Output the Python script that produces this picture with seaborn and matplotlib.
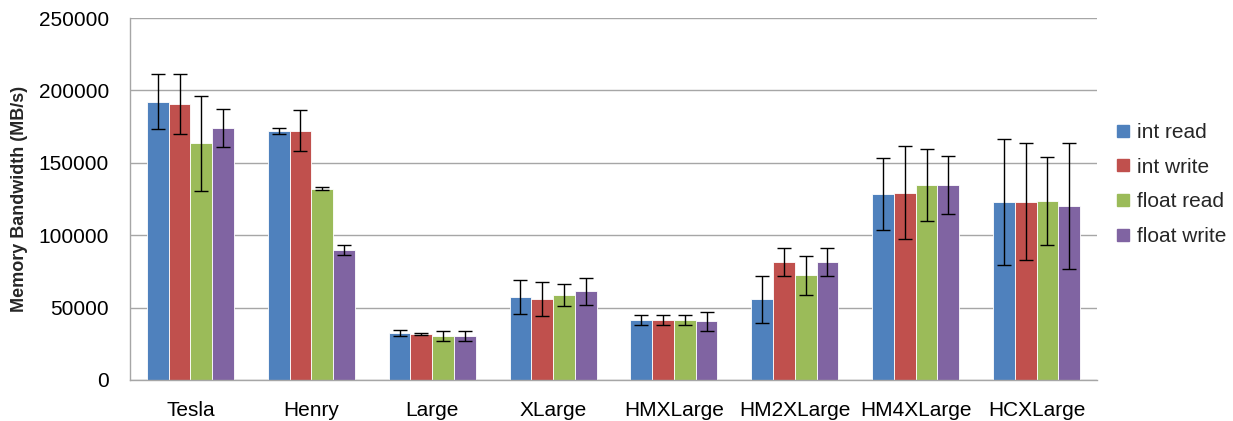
import matplotlib
matplotlib.use("Agg")
import matplotlib.pyplot as plt
import seaborn as sns
import pandas as pd
import numpy as np

categories = ["Tesla", "Henry", "Large", "XLarge", "HMXLarge", "HM2XLarge", "HM4XLarge", "HCXLarge"]
series = ["int read", "int write", "float read", "float write"]

int_read = [192200, 172200, 32500, 57500, 41400, 55700, 128500, 123100]
int_write = [190400, 172200, 31800, 55700, 41400, 81500, 129400, 123100]
float_read = [163500, 132100, 30600, 58500, 41400, 72500, 134700, 123800]
float_write = [174200, 90000, 30600, 61200, 40500, 81500, 134700, 120200]

int_read_err = [19000, 2000, 2000, 11800, 3500, 16000, 24700, 43700]
int_write_err = [20800, 14000, 1000, 11800, 3500, 9500, 32000, 40500]
float_read_err = [33000, 1000, 3500, 7600, 3500, 13500, 24600, 30200]
float_write_err = [13000, 3500, 3500, 9400, 6500, 9700, 20100, 43600]

colors = ["#4F81BD", "#C0504D", "#9BBB59", "#8064A2"]

values = [int_read, int_write, float_read, float_write]
errs = [int_read_err, int_write_err, float_read_err, float_write_err]

rows = []
for s, vals, es in zip(series, values, errs):
    for c, v, e in zip(categories, vals, es):
        rows.append({"cat": c, "series": s, "value": v, "err": e})
df = pd.DataFrame(rows)

sns.set_style("white")
plt.rcParams["font.family"] = ["Liberation Sans", "DejaVu Sans"]

fig = plt.figure(figsize=(12.33, 4.21), dpi=100)
ax = fig.add_axes([0.1054, 0.0974, 0.7843, 0.8596])

sns.barplot(data=df, x="cat", y="value", hue="series", order=categories,
            hue_order=series, palette=colors, errorbar=None, width=0.72,
            saturation=1, ax=ax, linewidth=0.6, edgecolor="white", zorder=2)

# error bars at bar centers
for i, s in enumerate(series):
    cont = ax.containers[i]
    xs = [p.get_x() + p.get_width() / 2 for p in cont.patches]
    sub = df[df.series == s].set_index("cat").loc[categories]
    ax.errorbar(xs, sub["value"].values, yerr=sub["err"].values, fmt="none",
                ecolor="black", elinewidth=1, capsize=5, capthick=1, zorder=3)

ax.set_ylim(0, 250000)
ax.set_yticks(np.arange(0, 250001, 50000))
ax.set_xlim(-0.5, len(categories) - 0.5)
ax.yaxis.grid(True, color="#A6A6A6", linewidth=1)
ax.set_axisbelow(True)
for sp in ["top", "right"]:
    ax.spines[sp].set_visible(False)
for sp in ["left", "bottom"]:
    ax.spines[sp].set_color("#A6A6A6")
    ax.spines[sp].set_linewidth(1)
ax.tick_params(axis="both", length=0, labelsize=15, colors="black")
ax.tick_params(axis="x", pad=15)
ax.tick_params(axis="y", pad=15)
ax.set_xlabel("")
ax.set_ylabel("Memory Bandwidth (MB/s)", fontsize=13, fontweight="bold", labelpad=8)

handles = [plt.Line2D([], [], marker="s", linestyle="none", markersize=8,
                      markerfacecolor=c, markeredgecolor=c) for c in colors]
leg = ax.legend(handles, series, loc="center left", bbox_to_anchor=(1.007, 0.54),
                frameon=False, fontsize=15, labelspacing=0.76, handletextpad=0.2,
                handlelength=1.0, borderaxespad=0)

fig.savefig("out.png", dpi=100)
